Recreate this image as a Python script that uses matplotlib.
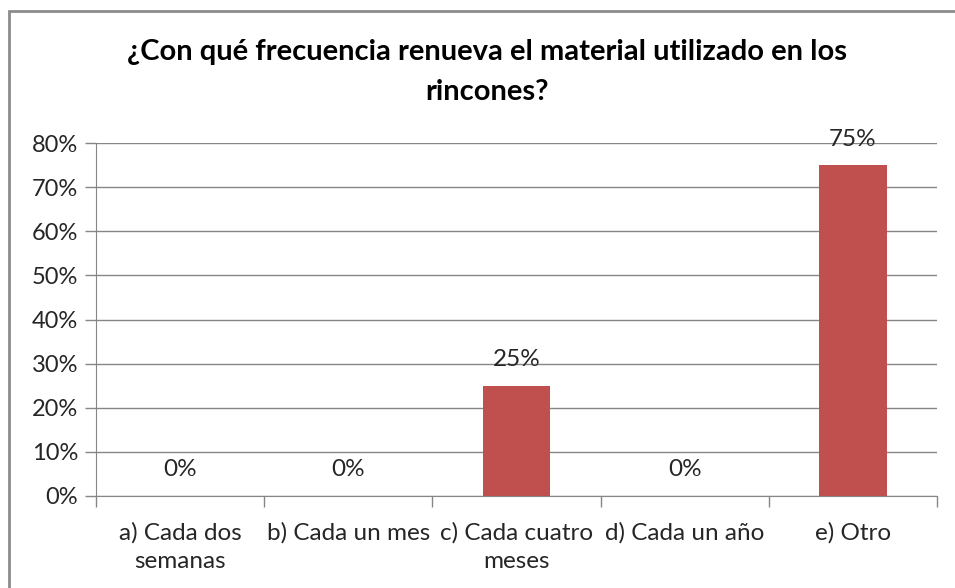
import matplotlib.pyplot as plt
import numpy as np
from matplotlib.patches import Rectangle

categorias = ['a) Cada dos\nsemanas', 'b) Cada un mes', 'c) Cada cuatro\nmeses',
              'd) Cada un año', 'e) Otro']
valores = [0.0, 0.0, 0.25, 0.0, 0.75]
etiquetas = ['0%', '0%', '25%', '0%', '75%']
yticks = [0, 0.1, 0.2, 0.3, 0.4, 0.5, 0.6, 0.7, 0.8]

plt.rcParams['font.family'] = ['Lato', 'DejaVu Sans']
gris = '#868686'

fig = plt.figure(figsize=(9.55, 5.88), dpi=100)
ax = fig.add_axes([96/955, 1 - 496/588, (937 - 96)/955, (496 - 143)/588])

x = np.arange(len(categorias))
ax.bar(x, valores, width=0.4, color='#c0504d', zorder=3)
for xi, v, t in zip(x, valores, etiquetas):
    ax.annotate(t, (xi, v), xytext=(0, 26), textcoords='offset pixels',
                ha='center', va='center', fontsize=17.5, color='#262626', zorder=4)

ax.set_xlim(-0.5, len(categorias) - 0.5)
ax.set_ylim(0, 0.8)
ax.set_yticks(yticks)
ax.set_yticklabels(['%d%%' % round(v * 100) for v in yticks])
ax.set_xticks(x)
ax.set_xticklabels(categorias, fontsize=17.5, color='#262626', linespacing=1.42)
ax.set_xticks(np.arange(-0.5, len(categorias)), minor=True)
ax.tick_params(axis='x', which='major', length=0, pad=19)
ax.tick_params(axis='x', which='minor', length=8, color=gris, width=1)
ax.tick_params(axis='y', length=8, color=gris, width=1, labelsize=17,
               labelcolor='#262626', pad=5)
ax.yaxis.grid(True, color=gris, linewidth=1, zorder=0)
for s in ['top', 'right']:
    ax.spines[s].set_visible(False)
for s in ['left', 'bottom']:
    ax.spines[s].set_color(gris)
    ax.spines[s].set_zorder(5)

fig.text(487/955, 1 - 52/588, '¿Con qué frecuencia renueva el material utilizado en los',
         ha='center', va='center', fontsize=21, fontweight='bold')
fig.text(487/955, 1 - 92/588, 'rincones?',
         ha='center', va='center', fontsize=21, fontweight='bold')

fig.patches.append(Rectangle((9/955, -0.1), 1.2, 1 - 11/588 + 0.1,
                             transform=fig.transFigure, fill=False,
                             edgecolor='#8c8c8c', linewidth=2))

fig.savefig('out.png', dpi=100)
